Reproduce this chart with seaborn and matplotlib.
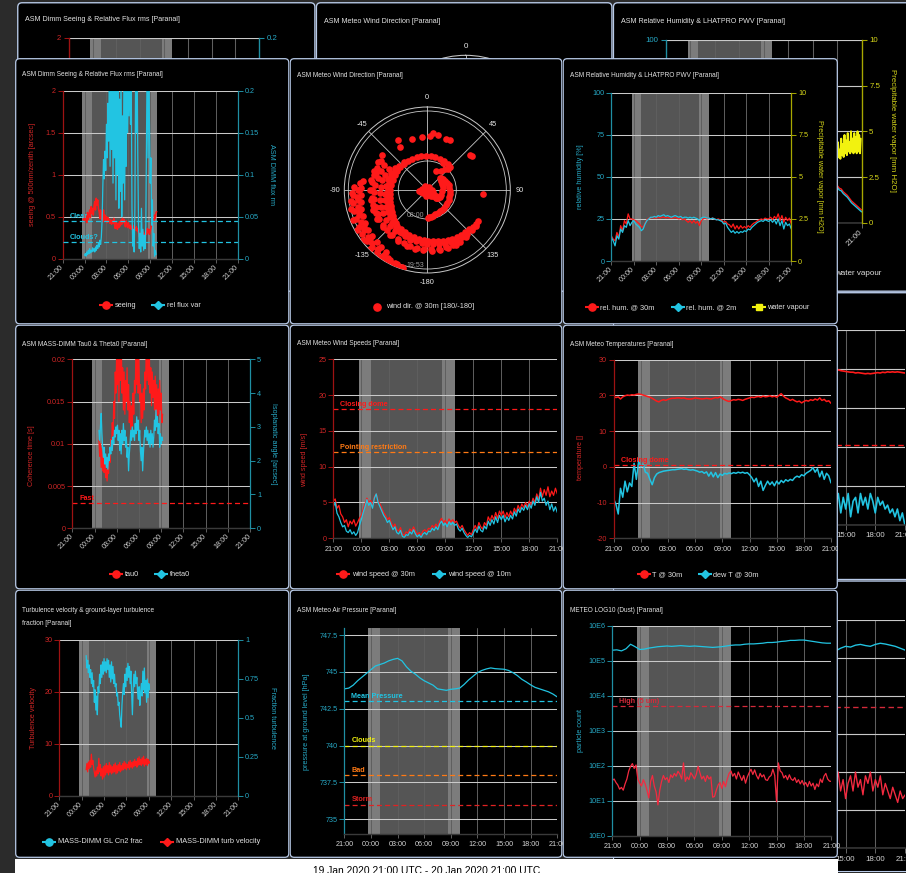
import numpy as np
import matplotlib
matplotlib.use("Agg")
import matplotlib.pyplot as plt
import seaborn as sns
from matplotlib.patches import FancyBboxPatch, Rectangle

sns.set_theme(style="dark")
plt.rcParams["font.family"] = ["Liberation Sans", "DejaVu Sans"]
plt.rcParams["axes.unicode_minus"] = False

# ------------------------------------------------------------------ data
X_TICKS_H = [0, 3, 6, 9, 12, 15, 18, 21, 24]          # hours since 21:00
X_TICK_LABELS = ["21:00", "00:00", "03:00", "06:00", "09:00",
                 "12:00", "15:00", "18:00", "21:00"]
TWILIGHT = (2.7, 13.0)
NIGHT = (4.0, 11.7)
CAPTION = "19 Jan 2020 21:00 UTC - 20 Jan 2020 21:00 UTC"

# DIMM seeing [arcsec] (start 2.8 h, step 0.1 h)
seeing_start, seeing_step = 2.8, 0.1
seeing = [.47, .44, .52, .46, .50, .43, .55, .47, .51, .58, .49, .62, .54, .60, .52, .63, .68, .58, .72, .64,
          .70, .60, .56, .48, .58, .47, .55, .44, .58, .46, .52, .45, .50, .43, .49, .44, .47, .42, .46, .41,
          .45, .42, .48, .41, .36, .44, .38, .35, .42, .37, .44, .39, .46, .41, .48, .43, .47, .42, .38, .45,
          .40, .37, .43, .39, .36, .40, .35, .38, .34, .39, .35, .37, .34, .38, .33, .36, .30, .26, .31, .24,
          .29, .25, .32, .27, .30, .28, .34, .29, .36, .31, .35, .29, .33, .37, .42, .39, .47, .44, .52, .48,
          .55, .56]
# relative flux variance (start 3.0 h, step 0.1 h)
fluxvar_start, fluxvar_step = 3.0, 0.1
fluxvar = [.004, .006, .003, .008, .005, .010, .006, .012, .007, .010, .008, .013, .009, .012, .008, .014,
           .010, .016, .012, .018, .014, .022, .017, .026, .045, .085, .118, .095, .128, .105, .160, .120,
           .185, .140, .230, .110, .210, .130, .250, .090, .220, .120, .240, .070, .210, .100, .260, .060,
           .190, .080, .230, .050, .170, .090, .220, .070, .200, .110, .240, .150, .230, .170, .250, .160,
           .210, .060, .015, .035, .008, .060, .220, .150, .240, .120, .040, .012, .030, .008, .060, .015,
           .035, .010, .028, .012, .040, .150, .260, .120, .220, .160, .090, .120, .040, .070, .015, .030,
           .003, .010, .005]
CLEAR_LIMIT, CLOUDS_LIMIT = 0.045, 0.02

# wind direction @30m: (hours since 21:00, direction deg)
wind_center = [(4.2, 0), (4.3, 120), (4.4, -150), (4.5, 60), (4.6, -60), (4.7, 170), (4.8, -100),
               (4.9, 30), (5.0, 140), (5.1, -30), (5.2, 90), (5.3, -130), (5.4, -80), (5.5, 110),
               (5.6, -170), (5.7, -110), (5.8, 150), (5.9, 130), (6.0, -95), (6.1, 135)]
wind_hook = [(6.3, 128), (6.5, 130), (6.7, 126), (6.9, 132), (7.1, 128), (7.3, 125), (7.5, 120),
             (7.6, 110), (7.7, 95), (7.8, 80), (7.9, 68), (8.0, 58), (8.1, 52), (8.3, 48), (8.5, 50),
             (8.7, 55), (8.9, 62), (9.1, 70), (9.3, 78), (9.4, 85), (9.5, 92), (9.6, 100), (9.65, 108),
             (9.7, 115), (9.75, 122), (9.8, 130), (9.85, 137), (9.9, 144), (10.0, 150), (10.1, 156),
             (10.2, 162), (10.35, 168), (10.5, 172), (10.65, 176), (10.8, 179),
             (9.0, 25), (9.6, 35), (10.5, 40), (11.2, 45), (11.5, 30)]
wind_arm1 = [(11.9, 45), (11.95, 38), (12.0, 30), (12.05, 22), (12.1, 14), (12.15, 6), (12.2, -2),
             (12.25, -10), (12.3, -18), (12.35, -26), (12.4, -34), (12.45, -42), (12.5, -50),
             (12.55, -58), (12.6, -66), (12.7, -74), (12.8, -82), (12.9, -90), (13.0, -96), (13.2, -102),
             (13.4, -108), (13.6, -113), (13.8, -118), (14.0, -122), (14.3, -127), (14.6, -132),
             (14.9, -136), (15.2, -140), (15.4, -146), (15.5, -152), (15.6, -158), (15.7, -164),
             (15.85, -170), (16.0, -176), (16.2, 179), (16.4, 174), (16.6, 168), (16.8, 163), (17.0, 158),
             (17.2, 153), (17.35, 148), (17.5, 143), (17.65, 138), (17.8, 133), (17.95, 129), (18.1, 125),
             (18.2, 121)]
wind_arm1b = [(12.9, -40), (13.0, -50), (13.1, -60), (13.2, -70), (13.35, -80), (13.5, -90), (13.7, -100),
              (13.9, -108), (14.1, -115), (14.4, -121), (14.7, -127), (15.0, -133), (15.3, -139),
              (15.6, -146), (15.9, -153), (16.1, -160),
              (13.4, -55), (13.6, -65), (13.8, -75), (14.0, -85), (14.2, -95), (14.4, -104), (14.6, -112),
              (14.9, -119), (15.2, -126), (15.5, -133), (15.8, -140), (16.1, -147), (16.4, -154),
              (16.7, -161),
              (14.5, -62), (14.8, -70), (15.0, -78), (15.2, -86), (15.4, -94), (15.6, -102), (15.8, -110),
              (16.0, -118), (16.2, -126), (16.4, -134), (16.6, -142),
              (15.9, -60), (16.1, -68), (16.3, -76), (16.5, -84), (16.7, -92), (16.9, -100), (17.05, -108),
              (17.15, -116)]
wind_arm1c = [(15.9, -150), (16.1, -156), (16.3, -162), (16.5, -168), (16.7, -174), (16.9, 180),
              (17.1, 174), (17.3, 168), (17.5, 162), (17.7, 156), (17.85, 150), (18.0, 144), (18.15, 138),
              (18.3, 132), (18.45, 127)]
wind_scatter = [(16.2, -32), (16.7, -17), (16.7, -6), (17.7, 6), (17.4, 11), (17.2, 24), (17.2, 51),
                (17.65, -52), (17.9, -30), (17.3, 94), (16.9, -72), (17.5, 53), (17.1, 20), (16.9, 3)]
wind_arm2 = [(17.2, -58), (17.24, -66), (17.28, -74), (17.32, -82), (17.36, -90), (17.4, -98),
             (17.45, -106), (17.5, -114), (17.55, -121), (17.6, -128), (17.66, -135), (17.72, -142),
             (17.8, -149), (17.9, -156), (18.0, -163), (18.1, -170), (18.2, -177), (18.28, 176),
             (18.36, 169), (18.44, 162), (18.5, 155), (18.56, 148), (18.62, 141),
             (17.5, -60), (17.55, -70), (17.6, -80), (17.65, -90), (17.7, -100), (17.75, -110),
             (17.85, -120), (17.95, -130), (18.05, -140), (18.15, -150), (18.3, -160), (18.4, -168),
             (18.5, -176), (18.6, 176), (18.7, 168), (18.75, 160), (18.8, 152)]
wind_arm3 = [(19.6, -82), (19.8, -88), (20.0, -94), (20.2, -100), (20.4, -106), (20.6, -112), (20.8, -118),
             (21.0, -124), (21.2, -130), (21.4, -136), (21.6, -141), (21.8, -146),
             (20.5, -90), (20.9, -96), (21.0, -104), (21.3, -110), (21.6, -116), (21.9, -122), (22.1, -128),
             (22.3, -134), (22.5, -140), (22.7, -146), (22.9, -152), (23.1, -158),
             (21.6, -88), (21.8, -94), (22.0, -100), (22.2, -106), (22.4, -112), (22.6, -118), (22.75, -124),
             (22.9, -130), (23.0, -136), (23.1, -141), (23.2, -146), (23.3, -151), (23.4, -156),
             (23.5, -160), (23.55, -163),
             (20.1, -84), (20.3, -90), (20.7, -98), (21.1, -108), (21.5, -120), (21.9, -130), (22.3, -140),
             (22.7, -150), (23.0, -156), (23.3, -162), (22.1, -92), (22.4, -98), (22.8, -104), (23.1, -112),
             (23.3, -120), (23.45, -128), (23.6, -136), (23.65, -144), (23.7, -150), (23.72, -155)]
WIND_R_MIN, WIND_R_MAX = 4.11, 23.83
WIND_RINGS = [11.0, 22.88]
WIND_RING_LABELS = ["08:00", "19:53"]

# relative humidity (start 0 h, step 0.25 h)
hum_start, hum_step = 0.0, 0.25
rh30 = [15, 13, 12, 17, 14, 21, 18, 24, 22, 28, 25, 25, 24.5, 24, 23, 22, 20.5, 20, 22.5, 24.5,
        25.5, 25.5, 26, 25.5, 25.5, 26, 25.5, 26, 26, 25.5, 26, 25.5, 25.5, 25.5, 26, 25.5, 25, 25.5, 24.5, 25,
        24, 23, 24, 22.5, 24, 22.5, 23.5, 21, 24, 25, 25.5, 25, 25.5, 25, 25.5, 25, 24.5, 25, 24.5, 24,
        23, 23.5, 22, 21.5, 20, 22, 19, 21, 19, 21, 19.5, 20.5, 19.5, 21, 20, 21.5, 22.5, 23, 24, 24.5,
        25, 24.5, 25.5, 25, 25, 26, 24.5, 26.5, 25, 28, 24, 27, 23, 26, 24, 25.5, 22]
rh2 = [14, 12, 9, 15, 13, 19, 17, 21, 20, 24, 21, 23, 24, 22, 21, 20, 18, 19, 22, 24,
       25, 26, 26, 26.5, 26, 27, 26.5, 27, 27.5, 26.5, 27, 26.5, 26, 26.5, 27, 26.5, 26, 26.5, 25.5, 26,
       26, 25.5, 26, 25.5, 26, 25.5, 25, 24, 25.5, 26, 26, 25.5, 25.5, 25, 25.5, 25, 24.5, 24.5, 24, 23.5,
       22, 22.5, 20, 18.5, 17, 18, 16.5, 17.5, 16.5, 17.5, 17, 18, 17.5, 19, 18.5, 20, 21, 22, 23, 23.5,
       24, 23.5, 24.5, 24, 23.5, 24.5, 23, 24.5, 22, 25, 21, 24, 19, 23, 21, 22, 19]
pwv = []

# MASS-DIMM tau0 [s] and theta0 [arcsec] (start 3.6 h, step 0.1 h)
massdimm_start, massdimm_step = 3.6, 0.1
tau0 = [.0104, .0085, .0100, .0072, .0095, .0068, .0088, .0066, .0080, .0060, .0070, .0056, .0072, .0065,
        .0085, .0078, .0105, .0092, .0125, .0110, .0150, .0130, .0185, .0160, .0215, .0170, .0230, .0150,
        .0210, .0175, .0240, .0160, .0190, .0140, .0185, .0135, .0175, .0150, .0190, .0140, .0170, .0125,
        .0150, .0115, .0145, .0120, .0160, .0135, .0175, .0160, .0215, .0170, .0230, .0160, .0200, .0150,
        .0170, .0125, .0160, .0130, .0165, .0140, .0185, .0165, .0225, .0175, .0240, .0170, .0210, .0160,
        .0190, .0145, .0185, .0155, .0175, .0140, .0180, .0130, .0170, .0125, .0165, .0135, .0175, .0140,
        .0160, .0125, .0135]
theta0 = [2.9, 2.6, 3.0, 3.4, 2.8, 2.4, 2.1, 2.4, 1.9, 2.2, 1.8, 2.1, 1.75, 2.2, 2.0, 2.4, 2.2, 2.6, 2.3,
          2.7, 2.5, 2.9, 2.7, 3.0, 2.8, 3.05, 2.6, 2.9, 2.3, 2.8, 2.2, 2.9, 2.5, 3.1, 2.6, 2.9, 2.4, 2.7,
          2.1, 2.4, 1.7, 2.2, 2.5, 2.9, 2.6, 3.0, 2.7, 2.9, 2.6, 3.1, 2.8, 3.3, 2.9, 3.2, 2.6, 2.9, 2.3,
          2.0, 2.4, 1.7, 2.2, 2.6, 2.9, 2.7, 3.0, 2.6, 2.9, 2.5, 2.8, 2.4, 2.9, 2.5, 2.8, 2.4, 2.7, 3.2,
          2.9, 3.5, 3.0, 3.3, 2.8, 3.1, 2.4, 2.8, 2.5, 2.7, 2.6]
FAST_LIMIT = 0.003

# wind speeds [m/s] (start 0 h, step 0.2 h)
ws_start, ws_step = 0.0, 0.2
ws30 = [5.2, 5.5, 4.2, 4.6, 3.4, 3.0, 2.2, 2.6, 1.6, 2.4, 2.0, 2.6, 1.7, 2.2, 2.8, 3.2, 4.0, 4.8, 5.6, 5.0,
        5.3, 4.6, 5.8, 6.2, 5.2, 4.8, 4.2, 3.6, 3.2, 2.6, 2.9, 2.2, 1.6, 2.0, 1.2, 1.0, 1.5, 0.6, 0.4, 0.9,
        0.7, 1.3, 1.0, 1.6, 1.0, 0.5, 0.8, 0.4, 1.0, 1.2, 0.9, 1.4, 1.3, 1.8, 1.5, 2.0, 1.6, 2.4, 2.8, 2.2,
        2.5, 2.0, 2.7, 2.3, 2.6, 2.2, 2.4, 1.8, 1.4, 1.8, 1.2, 0.8, 0.4, 0.8, 0.5, 1.2, 1.8, 1.2, 2.2, 1.6,
        1.3, 2.2, 1.8, 3.0, 2.4, 3.2, 2.6, 3.6, 2.8, 3.8, 3.2, 3.8, 2.9, 3.6, 3.0, 3.8, 3.2, 4.2, 3.6, 4.6,
        4.0, 4.8, 4.3, 5.0, 4.4, 5.2, 4.6, 5.6, 5.0, 6.2, 5.4, 7.0, 5.8, 6.8, 6.0, 7.2, 5.8, 6.6, 6.0, 7.0,
        6.2]
ws10 = [4.4, 5.0, 3.5, 3.0, 2.2, 1.6, 1.8, 1.0, 0.8, 1.2, 0.6, 0.9, 0.4, 0.8, 1.8, 2.6, 3.6, 4.4, 5.4, 4.6,
        5.0, 4.2, 5.6, 6.2, 5.0, 4.4, 3.8, 3.2, 2.8, 2.2, 2.5, 1.8, 1.2, 1.6, 0.8, 0.6, 1.1, 0.3, 0.1, 0.5,
        0.4, 0.9, 0.6, 1.2, 0.6, 0.2, 0.5, 0.1, 0.6, 0.8, 0.5, 1.0, 0.9, 1.4, 1.1, 1.6, 1.2, 2.0, 2.4, 1.8,
        2.1, 1.6, 2.3, 1.9, 2.2, 1.8, 2.0, 1.3, 1.0, 1.4, 0.8, 0.4, 0.1, 0.4, 0.2, 0.7, 1.3, 0.8, 1.7, 1.1,
        0.9, 1.7, 1.3, 2.4, 1.8, 2.6, 2.0, 3.0, 2.2, 3.2, 2.6, 3.2, 2.3, 3.0, 2.5, 3.2, 2.7, 3.7, 3.1, 4.1,
        3.6, 4.3, 3.9, 4.6, 4.0, 4.8, 4.2, 5.2, 4.6, 5.8, 5.0, 6.4, 5.2, 5.6, 4.6, 5.2, 4.0, 4.8, 3.8, 4.4,
        3.6]
CLOSING_WIND, POINTING_WIND = 18, 12

# temperatures [C] (start 0 h, step 0.25 h)
temp_start, temp_step = 0.0, 0.25
t30 = [19.7, 19.4, 19.6, 19.0, 19.6, 19.9, 20.1, 20.0, 20.2, 20.1, 20.3, 20.4, 20.3, 20.1, 19.9, 19.7,
       19.5, 19.2, 18.8, 18.4, 18.2, 18.6, 18.8, 18.6, 18.9, 19.1, 19.2, 19.2, 19.3, 19.3, 19.2, 19.3,
       19.1, 19.0, 19.0, 19.1, 19.3, 19.2, 19.1, 19.0, 19.1, 19.2, 19.1, 19.0, 19.2, 19.4, 19.3, 19.6,
       19.2, 18.8, 18.5, 18.3, 18.6, 18.8, 18.7, 18.9, 18.8, 18.6, 18.9, 19.1, 19.3, 19.5, 19.4, 19.6,
       19.7, 19.5, 19.8, 19.6, 19.7, 19.9, 19.6, 19.8, 19.5, 20.0, 20.5, 19.8, 19.3, 19.0, 18.6, 18.9,
       18.5, 18.2, 18.4, 17.9, 18.3, 18.6, 18.4, 18.8, 18.6, 19.0, 18.7, 19.3, 18.6, 18.9, 18.3, 18.5, 17.8]
dew30 = [-9.0, -10.5, -13.2, -6.0, -8.5, -4.0, -7.0, -4.5, -5.5, 1.0, -3.5, 1.5, 0.0, 0.8, -1.5, -1.8,
         -3.5, -5.0, -3.0, -2.0, -1.6, -1.4, -1.2, -1.1, -1.0, -0.9, -0.8, -0.8, -0.7, -0.6, -0.5, -0.7,
         -0.6, -0.8, -0.9, -0.8, -1.0, -1.2, -1.5, -1.3, -1.8, -1.4, -2.6, -1.5, -2.8, -1.6, -3.0, -2.0,
         -2.4, -1.8, -2.0, -1.7, -1.9, -1.6, -1.8, -1.5, -1.7, -1.5, -1.8, -1.6, -2.2, -3.0, -4.2, -3.2,
         -5.5, -4.0, -6.6, -5.2, -4.0, -5.0, -4.2, -5.3, -4.0, -4.8, -3.8, -4.4, -3.6, -4.0, -3.5, -3.8,
         -3.0, -2.6, -2.9, -2.2, -2.5, -1.8, -1.4, -1.0, -0.2, -1.5, -0.5, -2.8, -1.2, -3.5, -1.8, -2.5, -4.5]
CLOSING_TEMP = 0.5

# turbulence (start 3.6 h, step 0.1 h)
turb_start, turb_step = 3.6, 0.1
gl_frac = [.90, .82, .87, .79, .84, .76, .81, .72, .79, .70, .74, .60, .68, .55, .64, .52, .70, .66, .78,
           .72, .84, .76, .86, .78, .88, .80, .86, .79, .88, .81, .87, .76, .84, .73, .86, .75, .83, .72,
           .78, .70, .72, .64, .66, .58, .60, .52, .48, .44, .58, .66, .72, .65, .78, .70, .82, .74, .85,
           .76, .83, .72, .80, .66, .52, .68, .78, .70, .80, .72, .76, .66, .62, .70, .58, .66, .72, .64,
           .80, .68, .82, .66, .74, .60, .75, .63, .72, .68]
turb_vel = [5.0, 6.2, 4.6, 6.5, 5.2, 6.8, 5.5, 8.0, 6.0, 6.8, 5.4, 4.5, 3.6, 4.8, 3.8, 5.5, 4.2, 7.2, 4.6,
            6.0, 3.8, 5.2, 3.2, 5.6, 3.6, 5.8, 4.0, 6.2, 4.4, 5.8, 4.0, 6.4, 4.5, 5.9, 4.2, 5.6, 4.4, 6.0,
            4.6, 6.3, 4.2, 5.8, 4.4, 6.0, 4.8, 6.4, 4.6, 5.8, 4.9, 6.2, 5.0, 6.6, 5.2, 6.3, 5.0, 6.0, 5.4,
            6.5, 5.1, 6.8, 5.5, 6.4, 5.3, 6.6, 5.6, 7.0, 5.8, 6.6, 5.5, 7.2, 5.9, 7.5, 6.0, 7.0, 5.8, 7.3,
            6.1, 7.6, 5.7, 7.0, 6.0, 7.2, 5.8, 7.0, 6.2, 6.6]

# air pressure [hPa] (start 0 h, step 0.5 h)
pres_start, pres_step = 0.0, 0.5
pressure = [743.85, 743.9, 744.1, 744.4, 744.65, 744.9, 745.15, 745.4, 745.5, 745.6, 745.75, 745.85, 745.92,
            745.75, 745.35, 745.05, 744.85, 744.6, 744.4, 744.25, 744.1, 743.85, 743.8, 743.75, 743.82,
            743.85, 743.9, 744.15, 744.45, 744.7, 744.95, 745.1, 745.2, 745.27, 745.22, 745.2, 745.18,
            745.1, 744.95, 744.75, 744.5, 744.32, 744.12, 743.95, 743.85, 743.75, 743.65, 743.5, 743.3]
MEAN_P, CLOUDS_P, BAD_P, STORM_P = 743, 740, 738, 736

# dust, log10 of particle counts
dust05_start, dust05_step = 0.0, 0.5
dust05_log = [5.30, 5.31, 5.28, 5.34, 5.47, 5.40, 5.32, 5.33, 5.36, 5.38, 5.40, 5.41, 5.42, 5.41, 5.42,
              5.43, 5.42, 5.41, 5.42, 5.41, 5.40, 5.39, 5.38, 5.39, 5.40, 5.42, 5.44, 5.45, 5.45, 5.47,
              5.48, 5.48, 5.49, 5.50, 5.52, 5.52, 5.53, 5.55, 5.56, 5.58, 5.58, 5.59, 5.59, 5.57, 5.55,
              5.53, 5.51, 5.50, 5.50]
dust5_start, dust5_step = 0.0, 0.2
dust5_log = [1.58, 1.62, 1.52, 1.45, 1.33, 1.38, 1.30, 1.48, 1.62, 1.85, 1.98, 2.06, 1.92, 2.02, 1.62, 1.50,
             1.42, 1.60, 1.48, 1.30, 1.08, 1.55, 1.72, 1.42, 1.25, 0.88, 1.30, 1.55, 1.72, 1.60, 1.66, 1.52,
             1.74, 1.66, 1.78, 1.70, 1.84, 1.76, 1.62, 2.08, 1.55, 1.68, 1.60, 1.80, 1.72, 1.62, 1.75, 1.98,
             1.80, 1.62, 1.70, 1.55, 1.72, 1.62, 1.68, 1.10, 1.12, 1.30, 1.45, 1.52, 1.35, 1.55, 1.40, 1.62,
             1.78, 1.85, 1.70, 1.78, 1.62, 1.82, 1.70, 1.58, 1.72, 1.50, 1.68, 1.80, 1.90, 1.75, 1.88, 1.72,
             1.62, 1.78, 1.68, 1.74, 1.60, 1.58, 1.68, 1.72, 1.90, 1.72, 0.97, 2.08, 1.85, 1.80, 1.65, 1.72,
             1.60, 1.74, 1.62, 1.58, 1.66, 1.52, 1.60, 1.48, 1.58, 1.45, 1.52, 1.40, 1.55, 1.42, 1.50, 1.32,
             1.48, 1.40, 1.62, 1.52, 1.70, 1.78, 1.62, 1.56, 1.55]
HIGH_DUST = 5000

# background (refreshed) dashboard copy, only the visible parts
bk_hum_start, bk_hum_step = 20.0, 0.25
bk_rh30 = [22, 21, 21.5, 20, 20.5, 19, 18.5, 17, 16, 15, 13.5, 12, 11, 10, 9, 8, 7]
bk_rh2 = [21, 20, 20.5, 19, 19.5, 18, 17.5, 16, 15, 14, 12.5, 11, 10, 9, 8, 7, 6]
bk_pwv_start, bk_pwv_step = 20.8, 0.1
bk_pwv = [3.6, 4.2, 3.5, 4.4, 3.6, 4.0, 3.5, 4.6, 3.7, 4.3, 3.6, 4.8, 3.8, 4.5, 3.7, 4.9, 3.9, 4.4, 3.8,
          5.0, 3.9, 4.6, 3.8, 4.9, 3.9, 4.7, 3.8, 5.0, 3.9, 4.8, 3.8, 4.6]
bk_temp_start, bk_temp_step = 16.0, 0.25
bk_t30 = [20.0, 19.9, 19.8, 19.9, 19.7, 19.8, 19.6, 19.5, 19.4, 19.3, 19.2, 19.2, 19.0, 19.1, 19.0, 18.9,
          18.8, 18.9, 18.8, 18.9, 19.0, 19.1, 19.0, 19.2, 19.1, 19.3, 19.2, 19.3, 19.2, 19.3, 19.2, 19.1, 19.0]
bk_dew = [-14, -18, -13, -19, -15, -12, -17, -13, -16, -12, -18, -14, -13, -17, -12, -15, -13, -16, -12,
          -14, -17, -13, -15, -14, -16, -15, -17, -16, -18, -16, -19, -17, -20]
bk_d05_start, bk_d05_step = 16.0, 0.5
bk_dust05_log = [5.15, 5.2, 5.18, 5.25, 5.3, 5.28, 5.33, 5.35, 5.32, 5.3, 5.35, 5.38, 5.36, 5.33, 5.3,
                 5.25, 5.2]
bk_d5_start, bk_d5_step = 16.0, 0.25
bk_dust5_log = [1.5, 1.8, 1.4, 1.9, 1.6, 2.0, 1.5, 1.8, 1.3, 1.7, 1.9, 1.5, 2.0, 1.6, 1.8, 1.4, 1.9, 1.7,
                2.0, 1.5, 1.8, 1.6, 1.9, 1.4, 1.7, 1.5, 1.3, 1.6, 1.4, 1.2, 1.5, 1.3, 1.4]

# ------------------------------------------------------------------ style
RED, CYAN, YELLOW, ORANGE, DUST_RED = "#ff1a1a", "#22c4e2", "#f2f20f", "#ff7a15", "#f42a40"
AX_RED, TXT_RED = "#9e1212", "#cf2626"
AX_CYAN, TXT_CYAN = "#1f8fa3", "#27a9c6"
AX_YEL, TXT_YEL = "#a8a800", "#d6d61a"
BAND_L, BAND_D = "#7c7c7c", "#555555"
VGRID, HGRID = "#5f5f5f", "#c9c9c9"
BORDER, TITLE_C, XLAB_C, LEG_C = "#b8cae8", "#e4e4e4", "#d4d4d4", "#e0e0e0"

W, H = 906, 873
fig = plt.figure(figsize=(W / 100, H / 100), dpi=100)
fig.patch.set_facecolor("#2b2b2b")


class Layer:
    def __init__(self, ox, oy, s):
        self.ox, self.oy, self.s = ox, oy, s


def frac(L, x0, y0, x1, y1):
    X0 = L.ox + (x0 - 15) * L.s
    Y0 = L.oy + (y0 - 58) * L.s
    X1 = L.ox + (x1 - 15) * L.s
    Y1 = L.oy + (y1 - 58) * L.s
    return [X0 / W, 1 - Y1 / H, (X1 - X0) / W, (Y1 - Y0) / H]


def tgrid(start, step, vals):
    return start + step * np.arange(len(vals))


BOX = {
    1: (15, 58, 289.5, 324.5), 2: (289.5, 58, 562.5, 324.5), 3: (562.5, 58, 838, 324.5),
    4: (15, 324.5, 289.5, 589.5), 5: (289.5, 324.5, 562.5, 589.5), 6: (562.5, 324.5, 838, 589.5),
    7: (15, 589.5, 289.5, 858), 8: (289.5, 589.5, 562.5, 858), 9: (562.5, 589.5, 838, 858),
}


def make_panel(L, box, titles, title_y):
    x0, y0, x1, y1 = box
    bg = fig.add_axes(frac(L, *box))
    bg.set_xlim(0, x1 - x0)
    bg.set_ylim(y1 - y0, 0)
    bg.set_axis_off()
    bg.add_patch(FancyBboxPatch((0.7, 0.7), x1 - x0 - 1.4, y1 - y0 - 1.4,
                                boxstyle="round,pad=0,rounding_size=4",
                                fc="black", ec=BORDER, lw=0.9 * L.s))
    for i, t in enumerate(titles):
        bg.text(7.5, title_y - y0 + 12.3 * i, t, color=TITLE_C, fontsize=4.7 * L.s,
                ha="left", va="center")
    return bg


def time_axes(L, bg, rect, ylim, yticks, ylabels, lcol, ltxt, rotate, log=False, clip=False):
    s = L.s
    ax = fig.add_axes(frac(L, *rect))
    ax.set_facecolor("black")
    if log:
        ax.set_yscale("log")
    ax.axvspan(*TWILIGHT, color=BAND_L, lw=0, zorder=0.1)
    ax.axvspan(*NIGHT, color=BAND_D, lw=0, zorder=0.2)
    ax.set_xlim(0, 24)
    ax.set_ylim(*ylim)
    ax.set_xticks(X_TICKS_H)
    ax.set_xticklabels(X_TICK_LABELS)
    ax.set_yticks(yticks)
    ax.set_yticklabels(ylabels)
    ax.minorticks_off()
    ax.set_axisbelow(True)
    ax.grid(True, axis="x", color=VGRID, lw=0.7 * s)
    ax.grid(True, axis="y", color=HGRID, lw=0.75 * s)
    for sp in ("top", "right"):
        ax.spines[sp].set_visible(False)
    ax.spines["left"].set_color(lcol)
    ax.spines["left"].set_linewidth(0.9 * s)
    ax.spines["bottom"].set_color("#3a3a3a")
    ax.spines["bottom"].set_linewidth(1.0 * s)
    ax.tick_params(axis="x", length=3 * s, width=0.6 * s, color="#6f6f6f", labelcolor=XLAB_C,
                   labelsize=5.2 * s, pad=2.2 * s, bottom=True)
    ax.tick_params(axis="y", length=3.5 * s, width=0.7 * s, color=lcol, labelcolor=ltxt,
                   labelsize=5.2 * s, pad=1.5 * s, left=True)
    if rotate:
        for lab in ax.get_xticklabels():
            lab.set_rotation(45)
            lab.set_ha("right")
            lab.set_va("center")
            lab.set_rotation_mode("anchor")
    if clip:
        for lab in ax.get_xticklabels():
            lab.set_clip_box(bg.bbox)
            lab.set_clip_on(True)
    return ax


def twin_axes(L, ax, ylim, yticks, ylabels, rcol, rtxt):
    s = L.s
    a2 = ax.twinx()
    a2.set_ylim(*ylim)
    a2.set_yticks(yticks)
    a2.set_yticklabels(ylabels)
    a2.grid(False)
    for sp in ("top", "bottom", "left"):
        a2.spines[sp].set_visible(False)
    a2.spines["right"].set_color(rcol)
    a2.spines["right"].set_linewidth(0.9 * s)
    a2.tick_params(axis="y", length=3.5 * s, width=0.7 * s, color=rcol, labelcolor=rtxt,
                   labelsize=5.2 * s, pad=1.5 * s, right=True)
    return a2


def line(ax, x, y, color, L, lw=0.9):
    if len(y) == 0:
        return
    sns.lineplot(x=np.asarray(x, float), y=np.asarray(y, float), ax=ax, color=color,
                 linewidth=lw * L.s, estimator=None, sort=False, errorbar=None, legend=False,
                 zorder=2)
    ax.set_xlabel("")
    ax.set_ylabel("")


def limit(ax, L, y, color, label):
    ax.axhline(y, color=color, lw=0.9 * L.s, ls=(0, (4, 2.5)), zorder=2.5)
    ax.annotate(label, xy=(0, y), xycoords=ax.get_yaxis_transform(),
                xytext=(7 * 0.72 * L.s, 1.0 * L.s), textcoords="offset points",
                color=color, fontsize=5.2 * L.s, fontweight="bold", ha="left", va="bottom",
                zorder=3)


def ytitle(L, bg, box, x, y, text, color, rot):
    bg.text(x - box[0], y - box[1], text, color=color, fontsize=5.2 * L.s, rotation=rot,
            ha="center", va="center", rotation_mode="anchor")


def legend_item(L, bg, box, x, y, color, label, marker="o", with_line=True):
    px, py = x - box[0], y - box[1]
    s = L.s
    if with_line:
        bg.plot([px - 7, px + 7], [py, py], color=color, lw=1.5 * s, solid_capstyle="butt")
    ms = {"o": 5.2, "D": 4.0, "s": 4.6}[marker] * s
    bg.plot([px], [py], marker=marker, ms=ms, color=color, mec=color, lw=0)
    bg.text(px + 8.5, py, label, color=LEG_C, fontsize=5.3 * s, va="center", ha="left")


# ------------------------------------------------------------------ panels
def draw_p1(L, see, flux, legends=True):
    box = BOX[1]
    bg = make_panel(L, box, ["ASM Dimm Seeing & Relative Flux rms [Paranal]"], 74)
    ax = time_axes(L, bg, (62.7, 90.7, 237.7, 258.7), (0, 2), [0, 0.5, 1, 1.5, 2],
                   ["0", "0.5", "1", "1.5", "2"], AX_RED, TXT_RED, True)
    a2 = twin_axes(L, ax, (0, 0.2), [0, 0.05, 0.1, 0.15, 0.2], ["0", "0.05", "0.1", "0.15", "0.2"],
                   AX_CYAN, TXT_CYAN)
    line(ax, tgrid(seeing_start, seeing_step, see), see, RED, L, lw=1.1)
    line(a2, tgrid(fluxvar_start, fluxvar_step, flux), flux, CYAN, L)
    limit(a2, L, CLEAR_LIMIT, CYAN, "Clear")
    limit(a2, L, CLOUDS_LIMIT, CYAN, "Clouds?")
    if legends:
        ytitle(L, bg, box, 33, 174, "seeing @ 500nm/zenith [arcsec]", TXT_RED, 90)
        ytitle(L, bg, box, 272, 174, "ASM DIMM flux rm", TXT_CYAN, 270)
        legend_item(L, bg, box, 106, 305.3, RED, "seeing", "o")
        legend_item(L, bg, box, 158.3, 305.3, CYAN, "rel flux var", "D")


def draw_p2(L, obs, legends=True):
    box = BOX[2]
    s = L.s
    bg = make_panel(L, box, ["ASM Meteo Wind Direction [Paranal]"], 75.7)
    pax = fig.add_axes(frac(L, 344.3, 107, 510.3, 273), projection="polar")
    pax.set_facecolor("none")
    pax.set_theta_zero_location("N")
    pax.set_theta_direction(-1)
    if len(obs):
        tt = np.array([o[0] for o in obs], float)
        dd = np.array([o[1] for o in obs], float)
        sns.scatterplot(x=np.deg2rad(dd), y=tt, ax=pax, color=RED, s=23 * s * s, linewidth=0,
                        legend=False, zorder=3)
        pax.set_xlabel("")
        pax.set_ylabel("")
    pax.set_ylim(WIND_R_MIN, WIND_R_MAX)
    pax.set_rgrids(WIND_RINGS, labels=["", ""])
    pax.set_thetagrids(np.arange(0, 360, 45),
                       labels=["0", "45", "90", "135", "-180", "-135", "-90", "-45"])
    pax.tick_params(axis="x", colors="#e8e8e8", labelsize=5.3 * s, pad=-6 * s)
    pax.grid(True, color="#c8c8c8", lw=0.6 * s)
    pax.spines["polar"].set_color("#c8c8c8")
    pax.spines["polar"].set_linewidth(0.7 * s)
    for r, lab in zip(WIND_RINGS, WIND_RING_LABELS):
        pax.annotate(lab, xy=(np.pi, r), xytext=(-2.5 * s, 0.3 * s), textcoords="offset points",
                     ha="right", va="bottom", color="#9a9a9a", fontsize=5.0 * s, zorder=4)
    if legends:
        legend_item(L, bg, box, 377.3, 306.7, RED, "wind dir. @ 30m [180/-180]", "o", with_line=False)


def draw_p3(L, h_start, h_step, r30, r2, p_start, p_step, pw, legends=True):
    box = BOX[3]
    bg = make_panel(L, box, ["ASM Relative Humidity & LHATPRO PWV [Paranal]"], 75.7)
    ax = time_axes(L, bg, (611.3, 92.7, 791.3, 261), (0, 100), [0, 25, 50, 75, 100],
                   ["0", "25", "50", "75", "100"], AX_CYAN, TXT_CYAN, True)
    a2 = twin_axes(L, ax, (0, 10), [0, 2.5, 5, 7.5, 10], ["0", "2.5", "5", "7.5", "10"], AX_YEL, TXT_YEL)
    line(ax, tgrid(h_start, h_step, r30), r30, RED, L)
    line(ax, tgrid(h_start, h_step, r2), r2, CYAN, L)
    line(a2, tgrid(p_start, p_step, pw), pw, YELLOW, L, lw=1.3)
    ytitle(L, bg, box, 580, 177, "relative humidity [%]", TXT_CYAN, 90)
    ytitle(L, bg, box, 820, 176.5, "Precipitable water vapor [mm H2O]", TXT_YEL, 270)
    legend_item(L, bg, box, 592, 307.3, RED, "rel. hum. @ 30m", "o")
    legend_item(L, bg, box, 677.7, 307.3, CYAN, "rel. hum. @ 2m", "D")
    legend_item(L, bg, box, 758.7, 307.3, YELLOW, "water vapour", "s")


def draw_p4(L):
    box = BOX[4]
    bg = make_panel(L, box, ["ASM MASS-DIMM Tau0 & Theta0 [Paranal]"], 344)
    ax = time_axes(L, bg, (72.3, 359.3, 250, 528.3), (0, 0.02), [0, 0.005, 0.01, 0.015, 0.02],
                   ["0", "0.005", "0.01", "0.015", "0.02"], AX_RED, TXT_RED, True)
    a2 = twin_axes(L, ax, (0, 5), [0, 1, 2, 3, 4, 5], ["0", "1", "2", "3", "4", "5"], AX_CYAN, TXT_CYAN)
    line(ax, tgrid(massdimm_start, massdimm_step, tau0), tau0, RED, L)
    line(a2, tgrid(massdimm_start, massdimm_step, theta0), theta0, CYAN, L)
    limit(ax, L, FAST_LIMIT, RED, "Fast")
    ytitle(L, bg, box, 31.7, 456, "Coherence time [s]", TXT_RED, 90)
    ytitle(L, bg, box, 273, 444, "Isoplanatic angle [arcsec]", TXT_CYAN, 270)
    legend_item(L, bg, box, 116, 574.3, RED, "tau0", "o")
    legend_item(L, bg, box, 161, 574.3, CYAN, "theta0", "D")


def draw_p5(L):
    box = BOX[5]
    bg = make_panel(L, box, ["ASM Meteo Wind Speeds [Paranal]"], 343.3)
    ax = time_axes(L, bg, (333.3, 359.3, 557.3, 538.3), (0, 25), [0, 5, 10, 15, 20, 25],
                   ["0", "5", "10", "15", "20", "25"], AX_RED, TXT_RED, False, clip=True)
    line(ax, tgrid(ws_start, ws_step, ws30), ws30, RED, L)
    line(ax, tgrid(ws_start, ws_step, ws10), ws10, CYAN, L)
    limit(ax, L, CLOSING_WIND, RED, "Closing dome")
    limit(ax, L, POINTING_WIND, ORANGE, "Pointing restriction")
    ytitle(L, bg, box, 305, 460, "wind speed [m/s]", TXT_RED, 90)
    legend_item(L, bg, box, 343.3, 574.3, RED, "wind speed @ 30m", "o")
    legend_item(L, bg, box, 439.3, 574.3, CYAN, "wind speed @ 10m", "D")


def draw_p6(L, start, step, tt, dd, legends=True):
    box = BOX[6]
    bg = make_panel(L, box, ["ASM Meteo Temperatures [Paranal]"], 344)
    ax = time_axes(L, bg, (613.7, 359.7, 831, 538.3), (-20, 30), [-20, -10, 0, 10, 20, 30],
                   ["-20", "-10", "0", "10", "20", "30"], AX_RED, TXT_RED, False, clip=True)
    line(ax, tgrid(start, step, tt), tt, RED, L, lw=1.1)
    line(ax, tgrid(start, step, dd), dd, CYAN, L, lw=1.1)
    limit(ax, L, CLOSING_TEMP, RED, "Closing dome")
    if legends:
        ytitle(L, bg, box, 580, 458, "temperature []", TXT_RED, 90)
        legend_item(L, bg, box, 644, 574.3, RED, "T @ 30m", "o")
        legend_item(L, bg, box, 704.7, 574.3, CYAN, "dew T @ 30m", "D")


def draw_p7(L):
    box = BOX[7]
    bg = make_panel(L, box, ["Turbulence velocity & ground-layer turbulence", "fraction [Paranal]"], 611)
    ax = time_axes(L, bg, (59.3, 640, 238.3, 795.7), (0, 30), [0, 10, 20, 30],
                   ["0", "10", "20", "30"], AX_RED, TXT_RED, True)
    a2 = twin_axes(L, ax, (0, 1), [0, 0.25, 0.5, 0.75, 1], ["0", "0.25", "0.5", "0.75", "1"],
                   AX_CYAN, TXT_CYAN)
    line(ax, tgrid(turb_start, turb_step, turb_vel), turb_vel, RED, L)
    line(a2, tgrid(turb_start, turb_step, gl_frac), gl_frac, CYAN, L)
    ytitle(L, bg, box, 33.3, 718, "Turbulence velocity", TXT_RED, 90)
    ytitle(L, bg, box, 272.3, 718, "Fraction turbulence", TXT_CYAN, 270)
    legend_item(L, bg, box, 49, 841.7, CYAN, "MASS-DIMM GL Cn2 frac", "o")
    legend_item(L, bg, box, 167, 841.7, RED, "MASS-DIMM turb velocity", "D")


def draw_p8(L):
    box = BOX[8]
    bg = make_panel(L, box, ["ASM Meteo Air Pressure [Paranal]"], 611)
    ax = time_axes(L, bg, (344.3, 627.7, 557.3, 834), (734, 748), [735, 737.5, 740, 742.5, 745, 747.5],
                   ["735", "737.5", "740", "742.5", "745", "747.5"], AX_CYAN, TXT_CYAN, False, clip=True)
    line(ax, tgrid(pres_start, pres_step, pressure), pressure, CYAN, L)
    limit(ax, L, MEAN_P, CYAN, "Mean Pressure")
    limit(ax, L, CLOUDS_P, YELLOW, "Clouds")
    limit(ax, L, BAD_P, ORANGE, "Bad")
    limit(ax, L, STORM_P, "#e02222", "Storm")
    ytitle(L, bg, box, 306.7, 721.7, "pressure at ground level [hPa]", TXT_CYAN, 90)


def draw_p9(L, s05, st05, d05, s5, st5, d5, legends=True):
    box = BOX[9]
    bg = make_panel(L, box, ["METEO LOG10 (Dust) [Paranal]"], 611)
    ax = time_axes(L, bg, (612.3, 625.7, 831.3, 835.7), (1, 1e6), [1, 10, 1e2, 1e3, 1e4, 1e5, 1e6],
                   ["10E0", "10E1", "10E2", "10E3", "10E4", "10E5", "10E6"], AX_CYAN, TXT_CYAN,
                   False, log=True)
    line(ax, tgrid(s05, st05, d05), 10 ** np.asarray(d05, float), CYAN, L)
    line(ax, tgrid(s5, st5, d5), 10 ** np.asarray(d5, float), DUST_RED, L)
    limit(ax, L, HIGH_DUST, "#d42a3a", "High (5 um)")
    if legends:
        ytitle(L, bg, box, 580, 730.7, "particle count", TXT_CYAN, 90)
        legend_item(L, bg, box, 630.3, 642.3, CYAN, "0.5um dust @ 20m", "o")
        legend_item(L, bg, box, 715.3, 642.3, DUST_RED, "5um dust @ 20m", "D")


# ------------------------------------------------------------------ back layer (window behind)
BACK = Layer(17, 2, 1.088)
draw_p1(BACK, [], [], legends=False)
draw_p2(BACK, [], legends=False)
draw_p3(BACK, bk_hum_start, bk_hum_step, bk_rh30, bk_rh2, bk_pwv_start, bk_pwv_step, bk_pwv)
draw_p6(BACK, bk_temp_start, bk_temp_step, bk_t30, bk_dew, legends=False)
draw_p9(BACK, bk_d05_start, bk_d05_step, bk_dust05_log, bk_d5_start, bk_d5_step, bk_dust5_log,
        legends=False)
n_back_axes = len(fig.axes)

# ------------------------------------------------------------------ front layer
FRONT = Layer(15, 58, 1.0)
wind_obs = (wind_center + wind_hook + wind_arm1 + wind_arm1b + wind_arm1c + wind_scatter
            + wind_arm2 + wind_arm3)
draw_p1(FRONT, seeing, fluxvar)
draw_p2(FRONT, wind_obs)
draw_p3(FRONT, hum_start, hum_step, rh30, rh2, 21.0, 0.1, pwv)
draw_p4(FRONT)
draw_p5(FRONT)
draw_p6(FRONT, temp_start, temp_step, t30, dew30)
draw_p7(FRONT)
draw_p8(FRONT)
draw_p9(FRONT, dust05_start, dust05_step, dust05_log, dust5_start, dust5_step, dust5_log)

# ------------------------------------------------------------------ caption strip
cap = fig.add_axes([15 / W, 0, (838 - 15) / W, (873 - 858.5) / H])
cap.set_axis_off()
cap.add_patch(Rectangle((0, 0), 1, 1, transform=cap.transAxes, fc="white", lw=0))
cap.text((426.5 - 15) / (838 - 15), (873 - 871) / (873 - 858.5), CAPTION, transform=cap.transAxes,
         ha="center", va="center", fontsize=7.4, color="black", clip_on=False)

# hide texts of the back window that are completely covered by the front window / caption strip
fig.canvas.draw()
renderer = fig.canvas.get_renderer()
for bax in fig.axes[:n_back_axes]:
    cand = list(bax.texts) + list(bax.get_xticklabels()) + list(bax.get_yticklabels())
    for t in cand:
        if not t.get_visible() or not t.get_text():
            continue
        bb = t.get_window_extent(renderer)
        left, right = bb.x0, bb.x1
        top, bottom = H - bb.y1, H - bb.y0
        if left >= 15 and right <= 838 and top >= 58:
            t.set_visible(False)

fig.savefig("out.png", dpi=100, facecolor=fig.get_facecolor())
